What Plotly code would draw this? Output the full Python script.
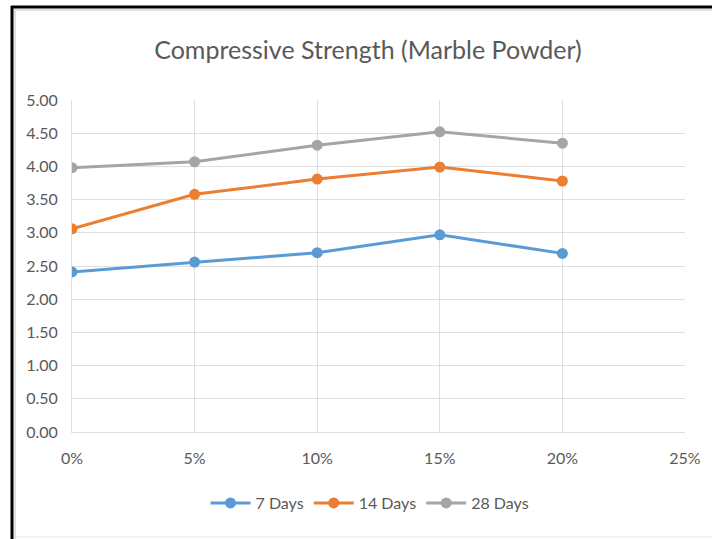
import plotly.graph_objects as go

replacement = [0.00, 0.05, 0.10, 0.15, 0.20]
days7 = [2.41, 2.56, 2.70, 2.97, 2.69]
days14 = [3.06, 3.58, 3.81, 3.99, 3.78]
days28 = [3.98, 4.07, 4.32, 4.52, 4.35]
series_names = ["7 Days", "14 Days", "28 Days"]
colors = ["#5B9BD5", "#ED7D31", "#A5A5A5"]

FONT = "Lato"
TXT = "#595959"

fig = go.Figure()
for name, vals, c in zip(series_names, [days7, days14, days28], colors):
    fig.add_trace(go.Scatter(
        x=replacement, y=vals, name=name, mode="lines+markers",
        line=dict(color=c, width=3),
        marker=dict(color=c, size=11, symbol="circle"),
    ))

L, R, T, B = 72, 27, 100, 107
W, H = 712, 539
pw, ph = W - L - R, H - T - B

def px(x):
    return (x - L) / pw

def py(y):
    return (H - B - y) / ph

fig.update_layout(
    width=W, height=H,
    margin=dict(l=L, r=R, t=T, b=B, autoexpand=False),
    paper_bgcolor="white", plot_bgcolor="white",
    font=dict(family=FONT, color=TXT, size=16),
    title=dict(text="Compressive Strength (Marble Powder)",
               x=px(368), xref="paper", xanchor="center",
               y=1 - 50 / H, yanchor="middle",
               font=dict(family=FONT, size=25, color=TXT)),
    xaxis=dict(range=[0, 0.25], dtick=0.05, tick0=0, tickformat=".0%",
               showgrid=True, gridcolor="#DEDEDE", gridwidth=1,
               zeroline=False, showline=True, linecolor="#DEDEDE",
               ticks="", ticklabelstandoff=12,
               tickfont=dict(family=FONT, size=16, color=TXT)),
    yaxis=dict(range=[0, 5], dtick=0.5, tick0=0, tickformat=".2f",
               showgrid=True, gridcolor="#DEDEDE", gridwidth=1,
               zeroline=False, showline=True, linecolor="#DEDEDE",
               ticks="", ticklabelstandoff=10,
               tickfont=dict(family=FONT, size=16, color=TXT)),
    legend=dict(orientation="h", x=px(370), xanchor="center",
                y=py(503), yanchor="middle",
                font=dict(family=FONT, size=16, color=TXT),
                itemwidth=40, tracegroupgap=0),
    showlegend=True,
    shapes=[
        dict(type="line", xref="paper", yref="paper",
             x0=px(12), x1=px(12), y0=py(6), y1=py(539),
             line=dict(color="black", width=3)),
        dict(type="line", xref="paper", yref="paper",
             x0=px(11), x1=px(712), y0=py(7), y1=py(7),
             line=dict(color="black", width=3)),
        dict(type="line", xref="paper", yref="paper",
             x0=px(15), x1=px(15), y0=py(9), y1=py(539),
             line=dict(color="#E0E0E0", width=2)),
        dict(type="line", xref="paper", yref="paper",
             x0=px(14), x1=px(712), y0=py(10), y1=py(10),
             line=dict(color="#E0E0E0", width=2)),
        dict(type="line", xref="paper", yref="paper",
             x0=px(14), x1=px(712), y0=py(537), y1=py(537),
             line=dict(color="#E8E8E8", width=1)),
    ],
)

fig.write_html("out.html", config={"displayModeBar": False},
               post_script="document.body.style.margin='0';")
